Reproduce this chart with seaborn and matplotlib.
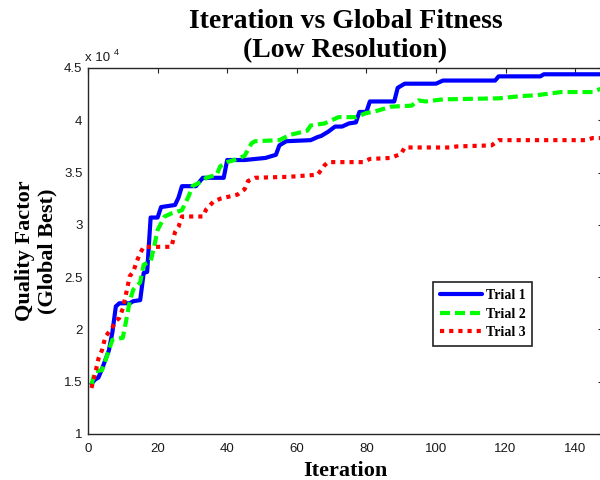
import matplotlib
matplotlib.use("Agg")
import matplotlib.pyplot as plt
from matplotlib.font_manager import FontProperties
from matplotlib.ticker import FuncFormatter
import pandas as pd
import seaborn as sns

# Global-best quality factor per iteration for three optimisation trials
trial1_iter = [1, 2, 3, 4, 6, 7, 8, 9, 12, 13, 15, 16, 17, 18, 20, 21, 25, 26, 27, 31, 32, 33,
               39, 40, 45, 51, 54, 55, 57, 64, 66, 67, 69, 71, 73, 75, 77, 78, 80, 81, 88, 89,
               91, 100, 102, 117, 118, 130, 131, 150]
trial1_val = [14800, 15200, 15400, 16200, 18000, 19700, 22200, 22500, 22500, 22700, 22800,
              25400, 25500, 30700, 30700, 31700, 31900, 32600, 33700, 33700, 34100, 34500,
              34500, 36200, 36200, 36400, 36700, 37600, 38000, 38100, 38400, 38500, 38900,
              39400, 39400, 39700, 39800, 40800, 40800, 41800, 41800, 43100, 43500, 43500,
              43800, 43800, 44200, 44200, 44400, 44400]

trial2_iter = [1, 2, 4, 6, 7, 10, 11, 12, 13, 15, 16, 18, 19, 20, 22, 24, 27, 29, 30, 33, 34,
               37, 38, 40, 42, 45, 47, 48, 55, 58, 63, 64, 68, 72, 77, 80, 82, 87, 93, 95, 97,
               102, 118, 124, 129, 136, 145, 148, 150]
trial2_val = [14700, 16000, 16100, 18000, 19000, 19200, 20900, 22700, 23800, 24500, 26200,
              26500, 27900, 29500, 30800, 31100, 31400, 32800, 33700, 34200, 34500, 34800,
              35600, 36000, 36200, 36600, 37800, 38000, 38100, 38600, 39000, 39500, 39700,
              40300, 40300, 40700, 40800, 41300, 41400, 41900, 41800, 42000, 42100, 42300,
              42400, 42700, 42700, 43100, 43200]

trial3_iter = [1, 2, 3, 4, 5, 7, 8, 9, 10, 11, 12, 13, 14, 15, 16, 24, 25, 26, 27, 33, 34, 36,
               38, 43, 45, 46, 48, 58, 66, 68, 69, 79, 81, 87, 90, 91, 104, 106, 116, 118, 143,
               145, 150]
trial3_val = [14400, 15700, 17200, 18000, 19300, 20200, 20800, 21100, 22000, 23500, 25100,
              25500, 26500, 27300, 27900, 27900, 29300, 29800, 30800, 30800, 31500, 32200,
              32500, 32900, 33400, 34200, 34500, 34600, 34800, 35700, 36000, 36000, 36300,
              36400, 36800, 37400, 37400, 37500, 37600, 38100, 38100, 38300, 38300]

trial_names = ["Trial 1", "Trial 2", "Trial 3"]
y_ticks = [10000, 15000, 20000, 25000, 30000, 35000, 40000, 45000]
x_ticks = [0, 20, 40, 60, 80, 100, 120, 140]

df = pd.concat([
    pd.DataFrame({"Iteration": it, "Quality": val, "Trial": name})
    for it, val, name in zip([trial1_iter, trial2_iter, trial3_iter],
                             [trial1_val, trial2_val, trial3_val], trial_names)
], ignore_index=True)

sns.set_theme(style="white")
plt.rcParams["font.family"] = ["Liberation Sans", "DejaVu Sans"]

serif_bold = dict(family="Liberation Serif", weight="bold", color="black")

fig = plt.figure(figsize=(6, 4.8), dpi=100)
ax = fig.add_axes([88 / 600, 1 - 434 / 480, (603 - 88) / 600, (434 - 68) / 480])

palette = {"Trial 1": "#0000ff", "Trial 2": "#00ff00", "Trial 3": "#ff0000"}
dashes = {"Trial 1": "", "Trial 2": (2.4, 1.2), "Trial 3": (1.0, 1.2)}

sns.lineplot(data=df, x="Iteration", y="Quality", hue="Trial", style="Trial",
             palette=palette, dashes=dashes, linewidth=3, estimator=None,
             sort=False, ax=ax)

ax.set_xlim(0, 148)
ax.set_ylim(10000, 45000)
ax.set_xticks(x_ticks)
ax.set_yticks(y_ticks)
ax.yaxis.set_major_formatter(FuncFormatter(lambda v, _: f"{v / 1e4:g}"))
ax.tick_params(direction="in", length=3.6, width=0.8, top=True, right=True,
               labelsize=9.5, labelcolor="#1a1a1a", color="#262626")
ax.tick_params(axis="x", pad=6.5)
ax.tick_params(axis="y", pad=4)
for sp in ax.spines.values():
    sp.set_visible(True)
    sp.set_color("#262626")
    sp.set_linewidth(1.0)

ax.set_title("Iteration vs Global Fitness\n(Low Resolution)", fontsize=20,
             linespacing=1.2, pad=8, **serif_bold)
ax.set_xlabel("Iteration", fontsize=16, labelpad=4, **serif_bold)
ax.set_ylabel("Quality Factor\n(Global Best)", fontsize=16, linespacing=1.1,
              labelpad=5, **serif_bold)

# Exponent note for the y axis
ax.annotate("x 10", xy=(0, 1), xycoords="axes fraction", xytext=(-2, 3),
            textcoords="offset points", ha="left", va="bottom", fontsize=9.5,
            color="#1a1a1a")
ax.annotate("4", xy=(0, 1), xycoords="axes fraction", xytext=(18.5, 8),
            textcoords="offset points", ha="left", va="bottom", fontsize=6.5,
            color="#1a1a1a")

handles, labels = ax.get_legend_handles_labels()
ax.get_legend().remove()
leg = fig.legend(handles, labels, loc="upper left",
                 bbox_to_anchor=(433 / 600, 1 - 282 / 480),
                 bbox_transform=fig.transFigure, frameon=True, fancybox=False,
                 edgecolor="#222222", framealpha=1,
                 prop=FontProperties(family="Liberation Serif", weight="bold", size=10),
                 handlelength=3.0, handletextpad=0.3, borderpad=0.5,
                 labelspacing=0.4, borderaxespad=0)
leg.get_frame().set_linewidth(1.2)
for text in leg.get_texts():
    text.set_color("black")
for line in leg.get_lines():
    line.set_linewidth(3)

fig.savefig("out.png", dpi=100)
